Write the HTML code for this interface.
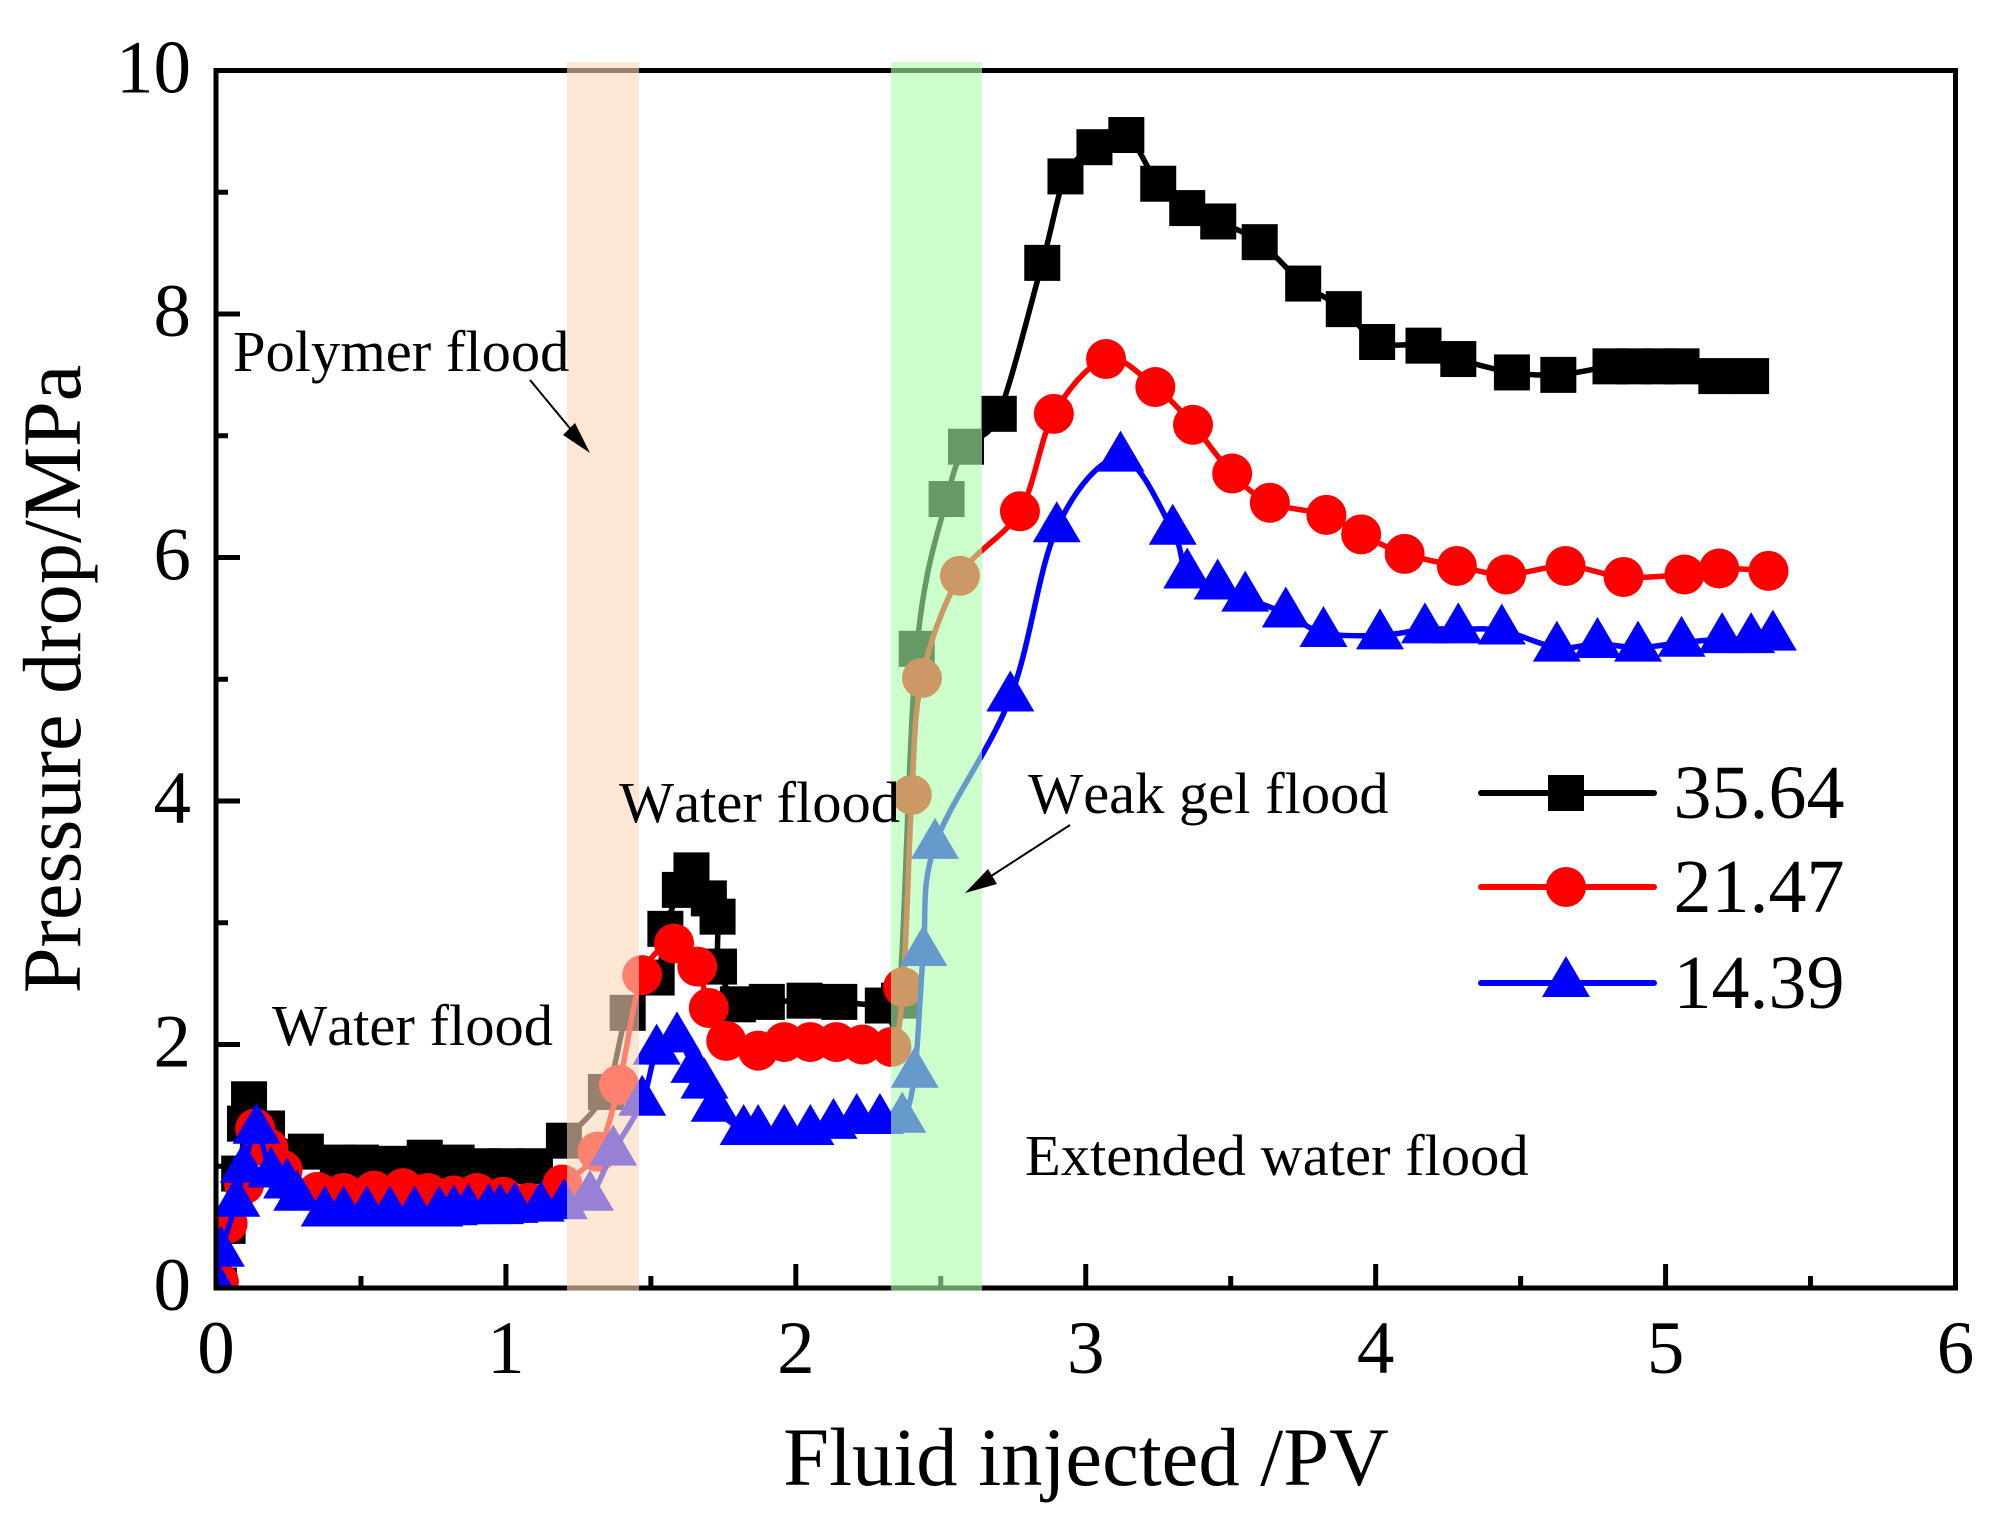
<!DOCTYPE html>
<html>
<head>
<meta charset="utf-8">
<title>Pressure drop vs fluid injected</title>
<style>
html,body{margin:0;padding:0;background:#fff;}
svg{display:block;}
text{font-family:"Liberation Serif",serif;fill:#000;font-kerning:none;}
</style>
</head>
<body>
<svg id="chart" xmlns="http://www.w3.org/2000/svg" width="2006" height="1533" viewBox="0 0 2006 1533">
  <defs>
    <clipPath id="plot-clip"><rect x="216" y="70" width="1740" height="1218"/></clipPath>
  </defs>
  <rect x="0" y="0" width="2006" height="1533" fill="#ffffff"/>
  <g id="series-layer" clip-path="url(#plot-clip)"></g>
  <g id="axis-layer"></g>

  <text x="1086" y="1485" font-size="82.6" text-anchor="middle">Fluid injected /PV</text>
  <text x="0" y="0" font-size="82.3" text-anchor="middle" transform="translate(80 679) rotate(-90)">Pressure drop/MPa</text>

  <g id="legend-layer"></g>

  <rect x="567" y="62" width="72" height="1229" fill="rgb(250,215,183)" fill-opacity="0.6"/>
  <rect x="891" y="62" width="91" height="1229" fill="rgb(170,255,170)" fill-opacity="0.6"/>

  <text x="233" y="371" font-size="58.5">Polymer flood</text>
  <text x="272" y="1045" font-size="58.5">Water flood</text>
  <text x="619" y="822" font-size="58.5">Water flood</text>
  <text x="1028" y="813" font-size="58.5">Weak gel flood</text>
  <text x="1025" y="1175" font-size="58.5">Extended water flood</text>

  <g>
    <line x1="530" y1="380" x2="578" y2="438" stroke="#000" stroke-width="2"/>
    <polygon points="590,453 563,435 575,423" fill="#000"/>
  </g>
  <g>
    <line x1="1070" y1="825" x2="985" y2="880" stroke="#000" stroke-width="2"/>
    <polygon points="965,893 988,869 997,884" fill="#000"/>
  </g>
</svg>
<script>
const xTickLabels = ["0","1","2","3","4","5","6"];
const yTickLabels = ["0","2","4","6","8","10"];
const xTickValues = [0,1,2,3,4,5,6];
const yTickValues = [0,2,4,6,8,10];
const xMinorValues = [0.5,1.5,2.5,3.5,4.5,5.5];
const yMinorValues = [1,3,5,7,9];

const seriesNames = ["35.64","21.47","14.39"];

const blackX = [0.01,0.04,0.08,0.10,0.114,0.176,0.31,0.42,0.5,0.6,0.72,0.83,0.92,1.0,1.1,1.2,1.345,1.42,1.52,1.55,1.6,1.64,1.70,1.73,1.735,1.8,1.9,2.03,2.15,2.3,2.356,2.417,2.52,2.587,2.70,2.85,2.93,3.03,3.14,3.25,3.35,3.457,3.60,3.75,3.89,4.005,4.165,4.285,4.47,4.63,4.81,4.89,4.98,5.055,5.175,5.295];
const blackY = [0.02,0.51,0.94,1.35,1.55,1.31,1.12,1.03,1.03,1.02,1.07,1.03,1.0,1.0,1.0,1.21,1.61,2.26,2.55,2.95,3.27,3.43,3.2,3.05,2.64,2.33,2.35,2.36,2.35,2.32,2.36,5.25,6.48,6.91,7.18,8.42,9.13,9.37,9.47,9.07,8.87,8.76,8.59,8.25,8.04,7.77,7.74,7.63,7.52,7.50,7.57,7.57,7.57,7.57,7.49,7.49];

const redX = [0.01,0.04,0.097,0.135,0.18,0.23,0.35,0.44,0.545,0.645,0.73,0.82,0.9,0.99,1.08,1.195,1.316,1.39,1.47,1.58,1.66,1.70,1.76,1.87,1.96,2.05,2.14,2.23,2.33,2.37,2.40,2.435,2.566,2.773,2.89,3.07,3.24,3.37,3.505,3.635,3.83,3.95,4.10,4.28,4.45,4.655,4.855,5.065,5.185,5.355];
const redY = [0.05,0.53,0.85,1.31,1.15,0.97,0.79,0.78,0.8,0.82,0.78,0.76,0.78,0.75,0.70,0.85,1.12,1.67,2.57,2.83,2.64,2.3,2.03,1.95,2.02,2.02,2.02,2.0,1.98,2.47,4.05,5.01,5.85,6.38,7.18,7.63,7.40,7.09,6.69,6.45,6.35,6.19,6.03,5.93,5.86,5.93,5.84,5.86,5.91,5.89];

const blueX = [0.005,0.017,0.07,0.096,0.14,0.19,0.245,0.28,0.375,0.44,0.52,0.6,0.685,0.77,0.82,0.87,0.94,0.98,1.03,1.12,1.2,1.29,1.37,1.47,1.52,1.59,1.65,1.685,1.72,1.82,1.87,1.96,2.05,2.13,2.21,2.29,2.367,2.41,2.44,2.48,2.74,2.90,3.12,3.30,3.35,3.455,3.55,3.69,3.82,4.015,4.17,4.285,4.435,4.625,4.765,4.905,5.055,5.195,5.295,5.37];
const blueY = [0.0,0.29,0.70,0.98,1.30,0.94,0.85,0.75,0.62,0.62,0.62,0.62,0.62,0.62,0.63,0.64,0.64,0.64,0.65,0.66,0.68,0.75,1.12,1.53,1.95,2.05,1.80,1.67,1.48,1.29,1.29,1.29,1.29,1.34,1.38,1.38,1.39,1.76,2.76,3.64,4.85,6.24,6.82,6.22,5.86,5.77,5.67,5.54,5.38,5.36,5.41,5.41,5.40,5.26,5.29,5.26,5.30,5.33,5.33,5.35];

const xAxisMin = 0, xAxisMax = 6, yAxisMin = 0, yAxisMax = 10;
const NS = "http://www.w3.org/2000/svg";
const plotLeft = 216, plotRight = 1955.5, plotTop = 70.5, plotBottom = 1288;

function xScale(v){ return plotLeft + (v - xAxisMin) / (xAxisMax - xAxisMin) * (plotRight - plotLeft); }
function yScale(v){ return plotBottom - (v - yAxisMin) / (yAxisMax - yAxisMin) * (plotBottom - plotTop); }

function make(tag, attrs){
  const el = document.createElementNS(NS, tag);
  for (const k in attrs) el.setAttribute(k, attrs[k]);
  return el;
}

function splinePath(xs, ys){
  const p = xs.map((x,i)=>[xScale(x), yScale(ys[i])]);
  let d = "M" + p[0][0].toFixed(1) + " " + p[0][1].toFixed(1);
  for (let i = 0; i < p.length - 1; i++){
    const a = p[Math.max(i-1,0)], b = p[i], c = p[i+1], e = p[Math.min(i+2,p.length-1)];
    const c1x = b[0] + (c[0]-a[0])/6, c1y = b[1] + (c[1]-a[1])/6;
    const c2x = c[0] - (e[0]-b[0])/6, c2y = c[1] - (e[1]-b[1])/6;
    d += "C" + c1x.toFixed(1) + " " + c1y.toFixed(1) + " " + c2x.toFixed(1) + " " + c2y.toFixed(1) + " " + c[0].toFixed(1) + " " + c[1].toFixed(1);
  }
  return d;
}

function marker(kind, cx, cy, color){
  if (kind === "square") return make("rect", {x:cx-18, y:cy-18, width:36, height:36, fill:color});
  if (kind === "circle") return make("ellipse", {cx:cx, cy:cy, rx:20, ry:20, fill:color});
  return make("polygon", {points:(cx)+","+(cy-27)+" "+(cx+24)+","+(cy+14)+" "+(cx-24)+","+(cy+14), fill:color});
}

const seriesLayer = document.getElementById("series-layer");
const axisLayer = document.getElementById("axis-layer");
const legendLayer = document.getElementById("legend-layer");

function drawSeries(xs, ys, color, kind, name){
  const g = make("g", {});
  
  
  const line = make("path", {d:splinePath(xs,ys), fill:"none", stroke:color, "stroke-width":5.5, "stroke-linejoin":"round"});
  
  
  g.appendChild(line);
  xs.forEach((x,i)=>{
    const m = marker(kind, xScale(x), yScale(ys[i]), color);
    
    
    g.appendChild(m);
  });
  seriesLayer.appendChild(g);
}
drawSeries(blackX, blackY, "#000000", "square", "35-64");
drawSeries(redX, redY, "#ff0000", "circle", "21-47");
drawSeries(blueX, blueY, "#0000ff", "triangle", "14-39");

const frame = make("rect", {x:plotLeft, y:plotTop, width:plotRight-plotLeft, height:plotBottom-plotTop, fill:"none", stroke:"#000", "stroke-width":5});


axisLayer.appendChild(frame);

function xTick(v, len, name){
  const t = make("line", {x1:xScale(v), x2:xScale(v), y1:plotBottom, y2:plotBottom-len, stroke:"#000", "stroke-width":5});
  
  
  axisLayer.appendChild(t);
}
function yTick(v, len, name){
  const t = make("line", {x1:plotLeft, x2:plotLeft+len, y1:yScale(v), y2:yScale(v), stroke:"#000", "stroke-width":5});
  
  
  axisLayer.appendChild(t);
}
xTickValues.forEach(v=>xTick(v, 24, 'x-major-tick'));
xMinorValues.forEach(v=>xTick(v, 12, 'x-minor-tick'));
yTickValues.forEach(v=>yTick(v, 24, 'y-major-tick'));
yMinorValues.forEach(v=>yTick(v, 12, 'y-minor-tick'));

xTickValues.forEach((v,i)=>{
  const t = make("text", {x:xScale(v), y:1373, "font-size":75, "text-anchor":"middle"});
  t.textContent = xTickLabels[i];
  
  
  axisLayer.appendChild(t);
});
yTickValues.forEach((v,i)=>{
  const t = make("text", {x:191, y:yScale(v)+22, "font-size":75, "text-anchor":"end"});
  t.textContent = yTickLabels[i];
  
  
  axisLayer.appendChild(t);
});

function legendEntry(label, color, kind, cy, name){
  const g = make("g", {});
  
  
  g.appendChild(make("line", {x1:1481, x2:1654, y1:cy, y2:cy, stroke:color, "stroke-width":6, "stroke-linecap":"round"}));
  g.appendChild(marker(kind, 1566, cy, color));
  const t = make("text", {x:1673.5, y:cy+25, "font-size":76});
  t.textContent = label;
  g.appendChild(t);
  legendLayer.appendChild(g);
}
legendEntry(seriesNames[0], "#000000", "square", 793, "35-64");
legendEntry(seriesNames[1], "#ff0000", "circle", 887, "21-47");
legendEntry(seriesNames[2], "#0000ff", "triangle", 983, "14-39");
</script>
</body>
</html>
